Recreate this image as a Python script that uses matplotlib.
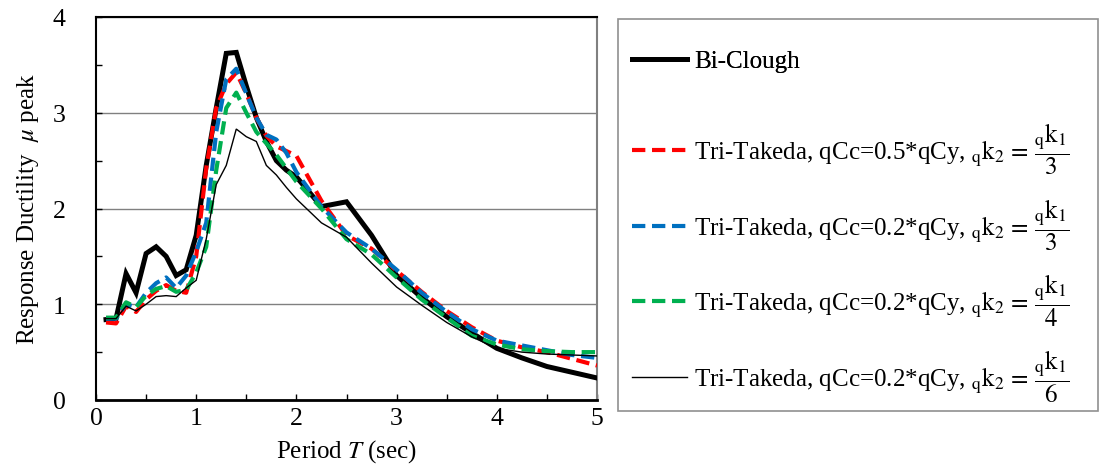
import numpy as np
import matplotlib
matplotlib.use("Agg")
import matplotlib.pyplot as plt
from matplotlib.patches import Rectangle
from matplotlib.ticker import MultipleLocator

plt.rcParams["font.family"] = ["Liberation Serif", "DejaVu Serif"]
plt.rcParams["mathtext.fontset"] = "stix"

# ---- data ----
period = [0.1, 0.2, 0.3, 0.4, 0.5, 0.6, 0.7, 0.8, 0.9, 1.0,
          1.1, 1.2, 1.3, 1.4, 1.5, 1.6, 1.7, 1.8, 1.9, 2.0,
          2.25, 2.5, 2.75, 3.0, 3.25, 3.5, 3.75, 4.0, 4.25, 4.5, 4.75, 5.0]

bi_clough = [0.84, 0.85, 1.32, 1.12, 1.53, 1.60, 1.50, 1.30, 1.36, 1.72,
             2.45, 3.05, 3.62, 3.63, 3.28, 2.95, 2.70, 2.50, 2.40, 2.33,
             2.02, 2.07, 1.72, 1.30, 1.07, 0.87, 0.70, 0.54, 0.44, 0.35, 0.29, 0.23]

tri_05_k3 = [0.81, 0.80, 0.98, 0.92, 1.05, 1.14, 1.20, 1.14, 1.12, 1.50,
             2.42, 3.05, 3.30, 3.42, 3.20, 2.95, 2.76, 2.65, 2.60, 2.55,
             2.08, 1.72, 1.58, 1.35, 1.13, 0.93, 0.76, 0.62, 0.55, 0.50, 0.43, 0.36]

tri_02_k3 = [0.85, 0.85, 1.00, 0.97, 1.12, 1.22, 1.28, 1.17, 1.30, 1.55,
             1.85, 2.80, 3.35, 3.46, 3.20, 2.95, 2.77, 2.72, 2.58, 2.38,
             2.02, 1.75, 1.58, 1.36, 1.12, 0.92, 0.74, 0.62, 0.57, 0.52, 0.47, 0.44]

tri_02_k4 = [0.86, 0.86, 1.02, 0.97, 1.09, 1.16, 1.19, 1.13, 1.15, 1.33,
             1.60, 2.40, 3.05, 3.21, 3.00, 2.80, 2.68, 2.56, 2.42, 2.28,
             2.00, 1.68, 1.52, 1.28, 1.05, 0.86, 0.67, 0.58, 0.53, 0.51, 0.50, 0.50]

tri_02_k6 = [0.85, 0.85, 0.98, 0.93, 1.00, 1.08, 1.09, 1.08, 1.17, 1.25,
             1.68, 2.25, 2.45, 2.83, 2.75, 2.70, 2.45, 2.35, 2.22, 2.10,
             1.85, 1.70, 1.43, 1.18, 0.99, 0.81, 0.66, 0.54, 0.50, 0.48, 0.47, 0.46]

labels = [
    "Bi-Clough",
    r"Tri-Takeda, qCc=0.5*qCy, ${}_{\mathrm{q}}\mathrm{k}_{2}\,=\,\dfrac{{}_{\mathrm{q}}\mathrm{k}_{1}}{3}$",
    r"Tri-Takeda, qCc=0.2*qCy, ${}_{\mathrm{q}}\mathrm{k}_{2}\,=\,\dfrac{{}_{\mathrm{q}}\mathrm{k}_{1}}{3}$",
    r"Tri-Takeda, qCc=0.2*qCy, ${}_{\mathrm{q}}\mathrm{k}_{2}\,=\,\dfrac{{}_{\mathrm{q}}\mathrm{k}_{1}}{4}$",
    r"Tri-Takeda, qCc=0.2*qCy, ${}_{\mathrm{q}}\mathrm{k}_{2}\,=\,\dfrac{{}_{\mathrm{q}}\mathrm{k}_{1}}{6}$",
]

fig = plt.figure(figsize=(11, 4.77), dpi=100, facecolor="white")
ax = fig.add_axes([96 / 1100, 1 - 401 / 477, 501 / 1100, 383 / 477])

dash = (3.2, 1.6)
series = [bi_clough, tri_05_k3, tri_02_k3, tri_02_k4, tri_02_k6]
styles = [
    dict(color="black", lw=3.6, ls="-"),
    dict(color="#FF0000", lw=3.0, ls=(0, dash)),
    dict(color="#0070C0", lw=3.0, ls=(0, dash)),
    dict(color="#00B050", lw=3.0, ls=(0, dash)),
    dict(color="black", lw=1.0, ls="-"),
]
zorders = [3, 4, 5, 6, 7]
handles = []
for y, st, z in zip(series, styles, zorders):
    h, = ax.plot(period, y, color=st["color"], lw=st["lw"], linestyle=st["ls"],
                 solid_joinstyle="miter", zorder=z)
    handles.append(h)

ax.set_xlim(0, 5)
ax.set_ylim(0, 4)
ax.xaxis.set_major_locator(MultipleLocator(1))
ax.xaxis.set_minor_locator(MultipleLocator(0.5))
ax.yaxis.set_major_locator(MultipleLocator(1))
ax.yaxis.set_minor_locator(MultipleLocator(0.5))
ax.tick_params(which="both", direction="in", length=4, width=1, labelsize=18.5)
ax.tick_params(axis="x", which="both", top=False, pad=5)
ax.tick_params(axis="y", which="both", right=False, pad=22)
ax.grid(axis="y", which="major", color="#808080", lw=1.0)
ax.set_axisbelow(True)

for s in ["left", "bottom", "top"]:
    ax.spines[s].set_color("black")
ax.spines["bottom"].set_linewidth(2)
ax.spines["left"].set_linewidth(1.5)
ax.spines["top"].set_linewidth(1.5)
ax.spines["right"].set_color("#808080")
ax.spines["right"].set_linewidth(1.5)

ax.set_xlabel(r"Period $T$ (sec)", fontsize=18, labelpad=6)
ax.set_ylabel(r"Response Ductility  $\mu$ peak", fontsize=18, labelpad=8)

# legend frame drawn as a box to the right of the plot
fig.patches.append(Rectangle((618 / 1100, 1 - 412 / 477), 480 / 1100, 392 / 477,
                             transform=fig.transFigure, fill=False,
                             edgecolor="#909090", lw=1.2))
leg_kw = dict(frameon=False, fontsize=18, handlelength=2.2, handletextpad=0.3,
              borderpad=0, borderaxespad=0)
leg1 = fig.legend(handles[:1], labels[:1], loc="center left",
                  bbox_to_anchor=(632 / 1100, 1 - 62 / 477), **leg_kw)
fig.legend(handles[1:], labels[1:], loc="upper left",
           bbox_to_anchor=(632 / 1100, 1 - 122 / 477),
           labelspacing=0.8, **leg_kw)
fig.add_artist(leg1)

fig.savefig("out.png", dpi=100, facecolor="white")
